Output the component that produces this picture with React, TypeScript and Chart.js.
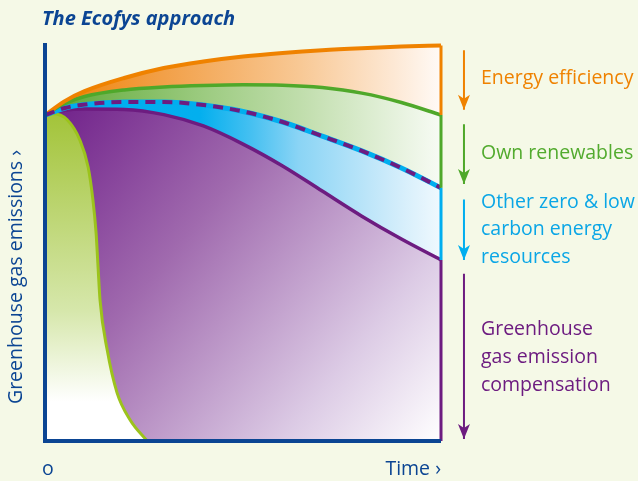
import React, { useEffect, useRef } from 'react';
import { Chart, registerables } from 'chart.js';

Chart.register(...registerables);

// ---- data (x = time 0..100, y = emissions 0..100) ----
const timeSteps = [0, 5, 10, 20, 30, 40, 50, 60, 70, 80, 90, 100];
const baseline = [81.9, 85.4, 87.9, 91.2, 93.7, 95.35, 96.6, 97.5, 98.2, 98.7, 99.1, 99.4];
const afterEfficiency = [81.9, 84.8, 86.56, 88.2, 88.94, 89.32, 89.5, 89.4, 88.8, 87.4, 85.05, 81.9];
const afterRenewables = [81.9, 83.67, 84.55, 85.18, 85.18, 84.42, 82.8, 80.15, 76.6, 72.9, 68.6, 63.6];
const afterLowCarbon = [81.9, 83.1, 83.4, 83.3, 82.0, 79.15, 74.6, 69.1, 62.8, 56.5, 50.75, 45.5];
const compensatedTime = [0, 2, 5.6, 8.8, 10.9, 12.1, 12.9, 13.4, 13.9, 15.7, 18.2, 21.5, 25.8];
const compensatedValues = [81.9, 82.2, 80.7, 75.6, 68.8, 60.6, 52.3, 43.7, 35.4, 22.9, 12.1, 5.3, 0];

const arrowTime = 105.8;
const arrowTops = [98.2, 79.6, 60.7, 42.0];
const arrowTips = [83.2, 64.6, 45.5, 0.5];

const labelLines = [
  ['Energy efficiency'],
  ['Own renewables'],
  ['Other zero & low', 'carbon energy', 'resources'],
  ['Greenhouse', 'gas emission', 'compensation'],
];

const ORANGE = '#ef8200';
const GREEN = '#4fa82a';
const CYAN = '#00aeef';
const PURPLE = '#6d1c80';
const LIME = '#9cc31c';
const BLUE = '#0b4593';
const BG = '#f5f9e7';

const pts = (xs: number[], ys: number[]) => xs.map((x, i) => ({ x, y: ys[i] }));
const last = (a: number[]) => a[a.length - 1];

function hGrad(chart: any, stops: [number, string][]) {
  const a = chart.chartArea;
  if (!a) return stops[0][1];
  const g = chart.ctx.createLinearGradient(a.left, 0, a.right, 0);
  stops.forEach(([o, c]) => g.addColorStop(o, c));
  return g;
}

const arrowHeadPlugin = {
  id: 'arrowHeads',
  afterDatasetsDraw(chart: any) {
    const ctx = chart.ctx;
    chart.data.datasets.forEach((ds: any, i: number) => {
      if (!ds.arrowHead) return;
      const meta = chart.getDatasetMeta(i);
      const p = meta.data[meta.data.length - 1];
      if (!p) return;
      const x = p.x;
      const y = p.y;
      ctx.save();
      ctx.fillStyle = ds.borderColor;
      ctx.beginPath();
      ctx.moveTo(x, y);
      ctx.lineTo(x - 6, y - 15);
      ctx.lineTo(x, y - 11);
      ctx.lineTo(x + 6, y - 15);
      ctx.closePath();
      ctx.fill();
      ctx.restore();
    });
  },
};

export default function App() {
  const ref = useRef<HTMLCanvasElement | null>(null);

  useEffect(() => {
    if (!ref.current) return;
    const curve = { cubicInterpolationMode: 'monotone', pointRadius: 0, clip: false };
    const straight = { tension: 0, pointRadius: 0, clip: false, fill: false };

    const datasets: any[] = [
      // 0 purple region
      {
        ...curve,
        data: pts(timeSteps, afterLowCarbon),
        borderColor: PURPLE,
        borderWidth: 3.5,
        fill: 'origin',
        order: 10,
        backgroundColor: (c: any) => {
          const chart = c.chart;
          const a = chart.chartArea;
          if (!a) return PURPLE;
          const y0 = chart.scales.y.getPixelForValue(last(afterLowCarbon) + 36);
          const g = chart.ctx.createLinearGradient(a.left, y0, a.right, a.bottom);
          g.addColorStop(0, '#70218a');
          g.addColorStop(0.36, '#a06aae');
          g.addColorStop(0.76, '#dccbe5');
          g.addColorStop(1, '#ffffff');
          return g;
        },
      },
      // 1 lime region
      {
        ...curve,
        data: pts(compensatedTime, compensatedValues),
        borderColor: LIME,
        borderWidth: 3,
        fill: 'origin',
        order: 9,
        backgroundColor: (c: any) => {
          const chart = c.chart;
          const a = chart.chartArea;
          if (!a) return LIME;
          const y0 = chart.scales.y.getPixelForValue(compensatedValues[0]);
          const g = chart.ctx.createLinearGradient(0, y0, 0, a.bottom);
          g.addColorStop(0, '#a3c43a');
          g.addColorStop(0.6, '#d6e7ab');
          g.addColorStop(0.88, '#ffffff');
          g.addColorStop(1, '#ffffff');
          return g;
        },
      },
      // 2 cyan region
      {
        ...curve,
        data: pts(timeSteps, afterRenewables),
        borderColor: CYAN,
        borderWidth: 5,
        fill: 0,
        order: 8,
        backgroundColor: (c: any) =>
          hGrad(c.chart, [
            [0, '#00aeef'],
            [0.39, '#03afee'],
            [0.52, '#45c0f1'],
            [0.64, '#8ad4f5'],
            [0.9, '#d5eefb'],
            [1, '#f0f9fe'],
          ]),
      },
      // 3 green region
      {
        ...curve,
        data: pts(timeSteps, afterEfficiency),
        borderColor: GREEN,
        borderWidth: 3.5,
        fill: 2,
        order: 7,
        backgroundColor: (c: any) =>
          hGrad(c.chart, [
            [0, '#58a732'],
            [0.2, '#7cb95a'],
            [0.4, '#9ccb80'],
            [0.65, '#c1dead'],
            [0.9, '#e8f3e0'],
            [1, '#f7fbf4'],
          ]),
      },
      // 4 orange region
      {
        ...curve,
        data: pts(timeSteps, baseline),
        borderColor: ORANGE,
        borderWidth: 4,
        fill: 3,
        order: 6,
        backgroundColor: (c: any) =>
          hGrad(c.chart, [
            [0, '#ee8000'],
            [0.3, '#f2a048'],
            [0.64, '#f8c894'],
            [0.88, '#fde8d4'],
            [1, '#fffaf6'],
          ]),
      },
      // 5 dashed overlay
      {
        ...curve,
        data: pts(timeSteps, afterRenewables),
        borderColor: PURPLE,
        borderWidth: 4,
        borderDash: [10, 7],
        fill: false,
        order: 5,
      },
      // right edge segments
      { ...straight, data: [{ x: 100, y: last(baseline) }, { x: 100, y: last(afterEfficiency) }], borderColor: ORANGE, borderWidth: 3, order: 4 },
      { ...straight, data: [{ x: 100, y: last(afterEfficiency) }, { x: 100, y: last(afterRenewables) }], borderColor: GREEN, borderWidth: 3, order: 4 },
      { ...straight, data: [{ x: 100, y: last(afterRenewables) }, { x: 100, y: last(afterLowCarbon) }], borderColor: CYAN, borderWidth: 3, order: 4 },
      { ...straight, data: [{ x: 100, y: last(afterLowCarbon) }, { x: 100, y: 0 }], borderColor: PURPLE, borderWidth: 3, order: 4 },
      // axes
      { ...straight, data: [{ x: 0, y: 100 }, { x: 0, y: 0 }, { x: 100, y: 0 }], borderColor: BLUE, borderWidth: 4, order: 3, borderJoinStyle: 'miter' },
      // arrows
      ...[ORANGE, GREEN, CYAN, PURPLE].map((col, i) => ({
        ...straight,
        data: [{ x: arrowTime, y: arrowTops[i] }, { x: arrowTime, y: arrowTips[i] }],
        borderColor: col,
        borderWidth: 2,
        order: 2,
        arrowHead: true,
      })),
    ];

    const chart = new Chart(ref.current, {
      type: 'line',
      data: { datasets },
      options: {
        responsive: false,
        animation: false,
        devicePixelRatio: 1,
        layout: { padding: { left: 45, top: 43, right: 197, bottom: 40 } },
        scales: {
          x: { type: 'linear', min: 0, max: 100, display: false },
          y: { type: 'linear', min: 0, max: 100, display: false },
        },
        plugins: {
          legend: { display: false },
          tooltip: { enabled: false },
          title: { display: false },
          filler: { drawTime: 'beforeDatasetsDraw' },
        },
        elements: { point: { radius: 0 } },
      },
      plugins: [arrowHeadPlugin],
    } as any);
    return () => chart.destroy();
  }, []);

  const font = '"Open Sans", sans-serif';
  const labelColors = [ORANGE, '#52ab2e', '#0aa6e6', PURPLE];
  const labelTops = [63, 137.7, 186.7, 314.4];
  const labelLH = [27.5, 27.5, 27.5, 28];

  return (
    <div style={{ position: 'absolute', left: 0, top: 0, width: 638, height: 481, background: BG, overflow: 'hidden', fontFamily: font }}>
      <canvas ref={ref} width={638} height={481} style={{ position: 'absolute', left: 0, top: 0 }} />
      <div style={{ position: 'absolute', left: 42, top: 8, fontSize: 20, lineHeight: '20px', fontWeight: 700, fontStyle: 'italic', color: BLUE, whiteSpace: 'nowrap' }}>
        The Ecofys approach
      </div>
      {labelLines.map((lines, i) => (
        <div key={i} style={{ position: 'absolute', left: 481, top: labelTops[i], fontSize: 19.5, lineHeight: labelLH[i] + 'px', color: labelColors[i], whiteSpace: 'nowrap' }}>
          {lines.map((l, j) => (
            <div key={j}>{l}</div>
          ))}
        </div>
      ))}
      <div style={{ position: 'absolute', left: 15.4 - 150, top: 277 - 10, width: 300, height: 20, lineHeight: '20px', fontSize: 19.5, textAlign: 'center', color: BLUE, transform: 'rotate(-90deg)', transformOrigin: 'center', whiteSpace: 'nowrap' }}>
        Greenhouse gas emissions ›
      </div>
      <div style={{ position: 'absolute', left: 42, top: 458.4, fontSize: 19.5, lineHeight: '20px', color: BLUE }}>o</div>
      <div style={{ position: 'absolute', right: 638 - 441, top: 458.4, fontSize: 19.5, lineHeight: '20px', color: BLUE, whiteSpace: 'nowrap' }}>Time ›</div>
    </div>
  );
}
